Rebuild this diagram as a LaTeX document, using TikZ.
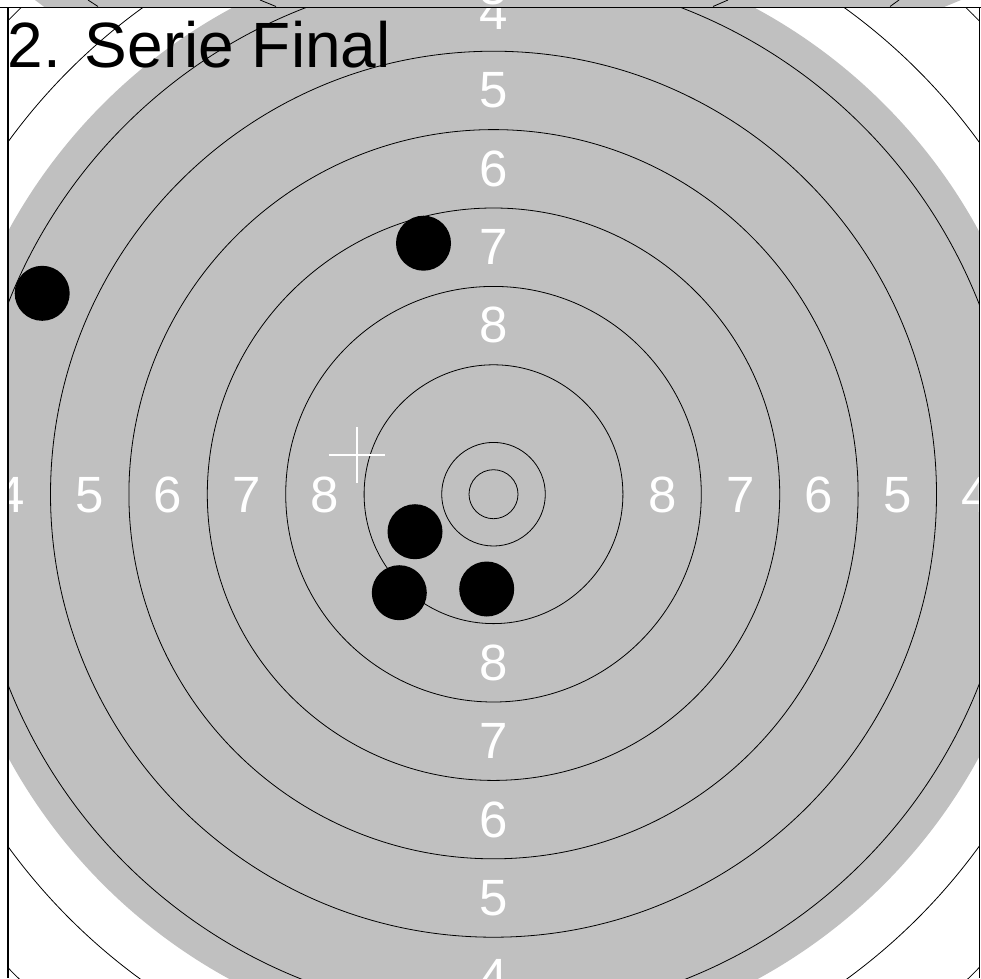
\documentclass[tikz,border=0pt]{standalone}
\usepackage{fontspec}
\setmainfont{Liberation Sans}
\definecolor{tgray}{RGB}{192,192,192}
\begin{document}
\begin{tikzpicture}[x=1pt,y=-1pt,
  ring/.style={draw=black,line width=0.8pt},
  lbl/.style={text=white,font=\fontsize{51}{51}\selectfont,inner sep=0pt},
  shot/.style={circle,fill=black,inner sep=0pt,minimum size=55pt},
  framestyle/.style={draw=black,line width=1.3pt},
  crossstyle/.style={draw=white,line width=2pt}]
\useasboundingbox (0,0) rectangle (981,978);
\fill[white] (0,0) rectangle (981,978);
% strip of the panel above
\begin{scope}
  \clip (0,0) rectangle (981,7.5);
  \fill[tgray] (35,0) -- (961,0) -- (943,7.5) -- (45,7.5) -- cycle;
  \draw[ring] (88,0) -- (98,6.5);
  \draw[ring] (260,0) -- (276,6.5);
  \draw[ring] (728,0) -- (713,6.5);
  \draw[ring] (899,0) -- (890,6.5);
  \node[lbl] (topfive) at (494,-12.5) {5};
\end{scope}
% main target
\begin{scope}
  \clip (8,7.5) rectangle (979.5,978);
  \coordinate (c) at (493.5,494.2);
  \fill[tgray] (c) circle[radius=552pt];
  \foreach \r in {24.5,51.8,129.4,207.8,286.2,364.6,443,521.4,599.8,678.2}
    \draw[ring] (c) circle[radius=\r pt];
  \foreach \d/\l in {168.8/8,247.2/7,325.6/6,404/5,482.4/4} {
    \node[lbl] (lt\l) at (493.5,{494.2-\d}) {\l};
    \node[lbl] (lb\l) at (493.5,{494.2+\d}) {\l};
    \node[lbl] (ll\l) at ({493.5-\d},494.7) {\l};
    \node[lbl] (lr\l) at ({493.5+\d},494.7) {\l};
  }
  \node[shot] (s1) at (42.2,293.3) {};
  \node[shot] (s2) at (423.5,243.2) {};
  \node[shot] (s3) at (415,531.7) {};
  \node[shot] (s4) at (399.3,592.7) {};
  \node[shot] (s5) at (486.7,589) {};
  \coordinate (cross) at (356.5,455);
  \draw[crossstyle] ([xshift=-28pt]cross) -- ([xshift=28pt]cross);
  \draw[crossstyle] ([yshift=28pt]cross) -- ([yshift=-28pt]cross);
\end{scope}
% frame
\draw[framestyle] (0,7.5) -- (981,7.5);
\draw[framestyle] (8,7.5) -- (8,978);
\draw[framestyle] (979.5,7.5) -- (979.5,978);
% title
\node[anchor=base west,inner sep=0pt,font=\fontsize{64}{64}\selectfont] (title) at (7.5,67) {2. Serie Final};
\end{tikzpicture}
\end{document}
